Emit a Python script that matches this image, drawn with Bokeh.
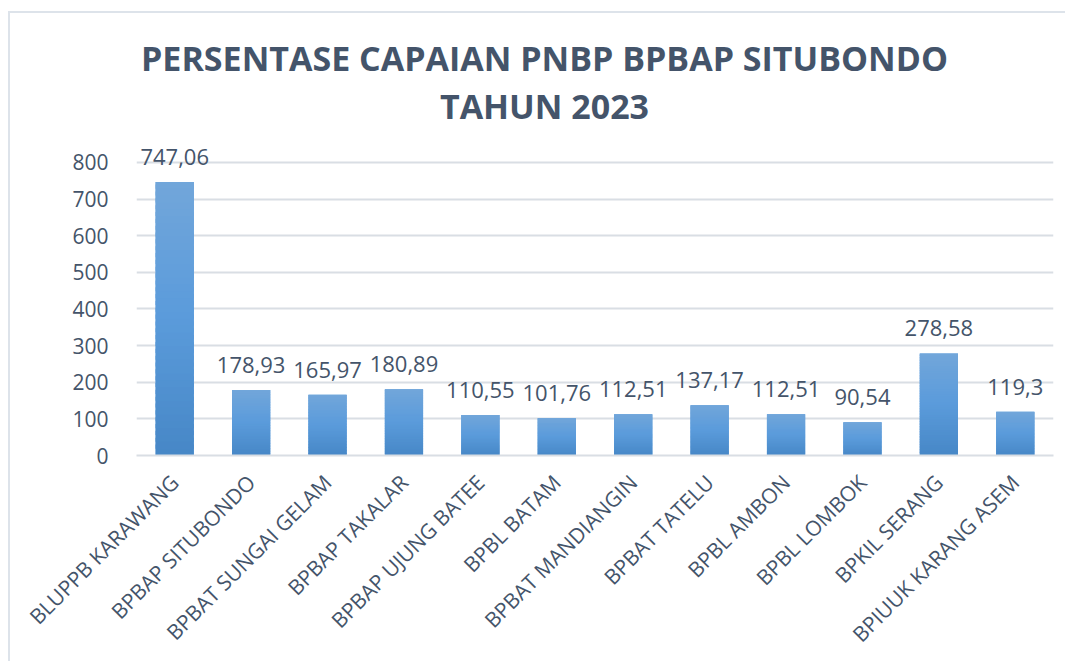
import numpy as np
from bokeh.plotting import figure
from bokeh.models import ColumnDataSource, LabelSet, Label, Range1d, FixedTicker
from bokeh.core.properties import value
from bokeh.embed import file_html
from bokeh.resources import INLINE

title_lines = ["PERSENTASE CAPAIAN PNBP BPBAP SITUBONDO", "TAHUN 2023"]
categories = ["BLUPPB KARAWANG", "BPBAP SITUBONDO", "BPBAT SUNGAI GELAM", "BPBAP TAKALAR",
              "BPBAP UJUNG BATEE", "BPBL BATAM", "BPBAT MANDIANGIN", "BPBAT TATELU",
              "BPBL AMBON", "BPBL LOMBOK", "BPKIL SERANG", "BPIUUK KARANG ASEM"]
values = [747.06, 178.93, 165.97, 180.89, 110.55, 101.76, 112.51, 137.17, 112.51, 90.54, 278.58, 119.3]
y_ticks = [0, 100, 200, 300, 400, 500, 600, 700, 800]

TEXT = "#44546A"
FONT = "Open Sans"

W, H = 1057, 650
p = figure(x_range=categories, y_range=Range1d(0, 1206.8), width=W, height=H,
           output_backend="svg", toolbar_location=None,
           min_border_left=126, min_border_right=14, min_border_top=0, min_border_bottom=208)
p.outline_line_color = None
p.background_fill_color = "white"
p.border_fill_color = "white"
p.x_range.range_padding = 0

def grad(t):
    stops = [(0.0, (0x47, 0x87, 0xC6)), (0.5, (0x5A, 0x9B, 0xDB)), (1.0, (0x72, 0xA6, 0xDA))]
    for (t0, c0), (t1, c1) in zip(stops[:-1], stops[1:]):
        if t <= t1:
            f = (t - t0) / (t1 - t0)
            c = [int(round(a + (b - a) * f)) for a, b in zip(c0, c1)]
            return "#%02x%02x%02x" % tuple(c)
    return "#%02x%02x%02x" % stops[-1][1]

N = 40
xs, bots, tops, cols = [], [], [], []
for c, v in zip(categories, values):
    for k in range(N):
        xs.append(c)
        bots.append(v * k / N)
        tops.append(min(v, v * (k + 1.6) / N))
        cols.append(grad((k + 0.5) / N))
p.vbar(x=categories, top=values, bottom=0, width=0.5, color="#5A9BDB", line_color=None)
p.vbar(x=xs, bottom=bots, top=tops, width=0.5, fill_color=cols, line_color=None)

src = ColumnDataSource(dict(x=categories, y=values,
                            t=[str(v).replace(".", ",") for v in values]))
p.add_layout(LabelSet(x="x", y="y", text="t", source=src, y_offset=17,
                      text_align="center", text_baseline="alphabetic",
                      text_font=value(FONT), text_font_size="22px", text_color=TEXT))

p.yaxis.ticker = FixedTicker(ticks=y_ticks)
p.yaxis.axis_line_color = None
p.yaxis.major_tick_line_color = None
p.yaxis.minor_tick_line_color = None
p.yaxis.major_label_standoff = 22
p.yaxis.major_label_text_font = FONT
p.yaxis.major_label_text_font_size = "21px"
p.yaxis.major_label_text_color = TEXT

p.xaxis.axis_line_color = "#D9DEE4"
p.xaxis.axis_line_width = 2
p.xaxis.major_tick_line_color = None
p.xaxis.minor_tick_line_color = None
p.xaxis.major_label_orientation = np.pi / 4
p.xaxis.major_label_standoff = 17
p.xaxis.major_label_text_font = FONT
p.xaxis.major_label_text_font_size = "21px"
p.xaxis.major_label_text_color = TEXT

p.xgrid.grid_line_color = None
p.ygrid.grid_line_color = "#D9DEE4"
p.ygrid.grid_line_width = 2

for line, yy in zip(title_lines, [1084, 953]):
    p.add_layout(Label(x=408, y=yy, x_units="screen", y_units="data", text=line,
                       text_align="center", text_baseline="middle",
                       text_font=FONT, text_font_style="bold",
                       text_font_size="34px", text_color=TEXT))

p.styles = {"border-left": "2px solid #DDE3EA", "border-top": "2px solid #DDE3EA",
            "margin-left": "8px", "margin-top": "11px"}

open("out.html", "w").write(file_html(p, INLINE))
